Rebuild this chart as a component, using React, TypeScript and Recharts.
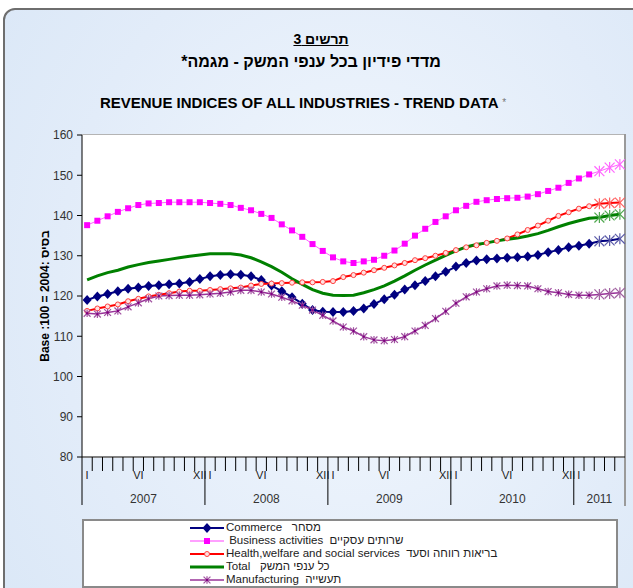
import React from "react"
import { LineChart, Line, XAxis, YAxis } from "recharts"

// categories
const years = [2007, 2008, 2009, 2010, 2011]
const monthsPerYear = [12, 12, 12, 12, 5]
const monthLabels: Record<number, string> = { 0: "I", 5: "VI", 11: "XII" }
const yTicks = [80, 90, 100, 110, 120, 130, 140, 150, 160]

// series, Jan 2007 .. May 2011 (base 2004 = 100)
const commerce = [
  119.0, 119.9, 120.5, 121.2, 121.8, 122.1, 122.5, 122.7, 122.9, 123.1, 123.5, 124.2,
  124.9, 125.2, 125.4, 125.3, 124.9, 124.0, 122.6, 121.2, 119.7, 118.1, 116.5, 116.1,
  116.0, 116.0, 116.3, 116.9, 118.0, 119.2, 120.3, 121.6, 122.7, 123.7, 124.9, 126.0,
  127.3, 128.2, 128.8, 129.1, 129.3, 129.5, 129.6, 129.8, 130.2, 130.9, 131.4, 132.1,
  132.5, 133.0, 133.6, 133.8, 134.2,
]
const business = [
  137.6, 138.7, 139.8, 140.9, 141.8, 142.6, 143.0, 143.1, 143.3, 143.3, 143.3, 143.3,
  143.1, 142.9, 142.6, 141.9, 141.3, 140.4, 139.4, 137.8, 136.3, 134.7, 132.9, 131.2,
  129.6, 128.6, 128.2, 128.6, 129.0, 130.0, 131.3, 133.0, 135.0, 136.7, 138.4, 139.8,
  141.3, 142.4, 143.4, 143.8, 144.1, 144.3, 144.4, 144.7, 145.3, 146.1, 146.9, 148.1,
  149.2, 150.2, 151.0, 151.9, 152.7,
]
const health = [
  116.3, 116.9, 117.4, 117.9, 118.7, 119.3, 119.9, 120.3, 120.7, 121.1, 121.3, 121.3,
  121.5, 121.7, 121.9, 122.1, 122.6, 123.0, 123.1, 123.2, 123.3, 123.4, 123.4, 123.5,
  123.7, 124.7, 125.2, 125.8, 126.4, 127.0, 127.6, 128.2, 128.9, 129.4, 130.0, 130.7,
  131.4, 132.1, 132.6, 133.2, 133.7, 134.3, 135.3, 136.4, 137.5, 138.7, 139.9, 140.8,
  141.7, 142.3, 142.9, 143.1, 143.2,
]
const total = [
  124.0, 125.0, 125.8, 126.4, 127.2, 127.8, 128.3, 128.7, 129.1, 129.5, 129.9, 130.2,
  130.5, 130.5, 130.5, 130.2, 129.5, 128.5, 127.3, 125.9, 124.3, 122.9, 121.6, 120.7,
  120.2, 120.1, 120.2, 120.8, 121.6, 122.5, 123.7, 125.0, 126.4, 127.7, 128.9, 130.1,
  131.2, 132.2, 132.8, 133.2, 133.7, 134.1, 134.4, 134.9, 135.5, 136.3, 137.2, 138.0,
  138.7, 139.3, 139.5, 140.0, 140.3,
]
const manufacturing = [
  115.7, 115.5, 115.9, 116.3, 117.3, 118.3, 119.3, 120.0, 120.1, 120.2, 120.2, 120.3,
  120.5, 120.7, 121.0, 121.4, 121.4, 121.0, 120.5, 119.7, 118.8, 117.7, 116.5, 115.2,
  113.8, 112.3, 111.3, 109.9, 109.1, 108.9, 109.2, 109.9, 111.3, 112.7, 114.4, 116.2,
  118.2, 119.8, 121.0, 121.8, 122.5, 122.7, 122.6, 122.5, 121.8, 121.1, 120.8, 120.4,
  120.2, 120.2, 120.4, 120.6, 120.8,
]

// last three months are preliminary -> star markers
const PRELIM_FROM = 50

const periods: { year: number; month: number; yi: number }[] = []
years.forEach((y, yi) => {
  for (let m = 0; m < monthsPerYear[yi]; m++) periods.push({ year: y, month: m, yi })
})

const data = periods.map((p, i) => ({
  period: `${p.year}-${p.month + 1}`,
  commerce: commerce[i],
  business: business[i],
  health: health[i],
  total: total[i],
  manufacturing: manufacturing[i],
}))

const FONT = '"Liberation Sans", Arial, sans-serif'
const W = 633
const H = 588
const PLOT_LEFT = 82
const PLOT_RIGHT = 625
const BAND = (PLOT_RIGHT - PLOT_LEFT) / periods.length

function MonthTick(props: any) {
  const { x, y, payload } = props
  const i = payload?.index ?? props.index
  const p = periods[i]
  if (!p) return null
  const n = monthsPerYear[p.yi]
  const yearEnd = p.month === n - 1
  const last = i === periods.length - 1
  const right = x + BAND / 2
  const label = monthLabels[p.month]
  const yearMid = p.month === Math.floor((n - 1) / 2)
  const yearX = n % 2 === 0 ? x + BAND / 2 : x
  return (
    <g>
      {i === 0 && (
        <line x1={x - BAND / 2} x2={x - BAND / 2} y1={y} y2={y + 48} stroke="#000" />
      )}
      {!last && (
        <line x1={right} x2={right} y1={y} y2={yearEnd ? y + 48 : y + 14} stroke="#000" />
      )}
      {label && (
        <text x={x} y={y + 22} textAnchor="middle" fontSize={11} fill="#222" fontFamily={FONT}>
          {label}
        </text>
      )}
      {yearMid && (
        <text x={yearX} y={y + 46} textAnchor="middle" fontSize={12} fill="#333" fontFamily={FONT}>
          {p.year}
        </text>
      )}
    </g>
  )
}

function Star({ cx, cy, color, r = 5 }: any) {
  const d = r * 0.9
  return (
    <g stroke={color} strokeWidth={1.2}>
      <line x1={cx} y1={cy - r} x2={cx} y2={cy + r} />
      <line x1={cx - d} y1={cy - d} x2={cx + d} y2={cy + d} />
      <line x1={cx - d} y1={cy + d} x2={cx + d} y2={cy - d} />
    </g>
  )
}

function Marker({ kind, cx, cy }: any) {
  if (kind === "diamond")
    return <polygon points={`${cx},${cy - 5} ${cx + 4.5},${cy} ${cx},${cy + 5} ${cx - 4.5},${cy}`} fill="#000080" />
  if (kind === "square") return <rect x={cx - 3} y={cy - 3} width={6} height={6} fill="#ff00ff" />
  if (kind === "circle") return <circle cx={cx} cy={cy} r={2.5} fill="#ffe0e0" stroke="#ff4040" strokeWidth={1} />
  if (kind === "asterisk")
    return (
      <g>
        <Star cx={cx} cy={cy} color="#a050a0" r={3.8} />
        <circle cx={cx} cy={cy} r={1.2} fill="#800080" />
      </g>
    )
  return null
}

function makeDot(kind: string, starColor: string) {
  return (props: any) => {
    const { cx, cy, index } = props
    if (cx == null || cy == null) return <g key={`d-${index}`} />
    if (index >= PRELIM_FROM)
      return (
        <g key={`d-${index}`}>
          <Star cx={cx} cy={cy} color={starColor} r={5.5} />
        </g>
      )
    return (
      <g key={`d-${index}`}>
        <Marker kind={kind} cx={cx} cy={cy} />
      </g>
    )
  }
}

const legendItems = [
  { text: "Commerce   מסחר", color: "#000080", width: 2, kind: "diamond" },
  { text: " Business activities  שרותים עסקיים", color: "#ff80ff", width: 1.5, kind: "square" },
  { text: "Health,welfare and social services  בריאות רווחה וסעד", color: "#ff0000", width: 2, kind: "circle" },
  { text: "Total   כל ענפי המשק", color: "#008000", width: 3, kind: "" },
  { text: "Manufacturing  תעשייה", color: "#993399", width: 1.5, kind: "asterisk" },
]

const ROW = 13

export default function App() {
  return (
    <div
      style={{
        position: "absolute",
        left: 0,
        top: 0,
        width: W,
        height: H,
        overflow: "hidden",
        background: "#fff",
        fontFamily: FONT,
      }}
    >
      {/* rounded frame */}
      <div
        style={{
          position: "absolute",
          left: 3,
          top: 8,
          width: 700,
          height: 700,
          border: "2px solid #6e6e6e",
          borderRadius: 12,
          background: "radial-gradient(ellipse at 50% 40%, #f3f8fe 0%, #e2ecf9 60%, #d8e6f6 100%)",
        }}
      />
      {/* plot background */}
      <div
        style={{
          position: "absolute",
          left: PLOT_LEFT,
          top: 134,
          width: PLOT_RIGHT - PLOT_LEFT,
          height: 323,
          background: "#fff",
          borderTop: "1px solid #b4b4b4",
        }}
      />
      <div style={{ position: "absolute", left: PLOT_RIGHT - 1, top: 134, width: 2, height: 372, background: "#9a9a9a" }} />

      <div style={{ position: "absolute", left: 0, top: 31, width: 642, textAlign: "center", fontWeight: "bold", fontSize: 14, lineHeight: "17px", textDecoration: "underline", direction: "rtl" }}>
        תרשים 3
      </div>
      <div style={{ position: "absolute", left: 0, top: 52, width: 622, textAlign: "center", fontWeight: "bold", fontSize: 16, lineHeight: "19px", direction: "rtl" }}>
        מדדי פידיון בכל ענפי המשק - מגמה*
      </div>
      <div style={{ position: "absolute", left: 0, top: 94, width: 606, textAlign: "center", fontWeight: "bold", fontSize: 15, lineHeight: "18px" }}>
        REVENUE INDICES OF ALL INDUSTRIES - TREND DATA <span style={{ fontWeight: "normal", fontSize: 10, color: "#777", verticalAlign: "top" }}>*</span>
      </div>

      <div style={{ position: "absolute", left: 0, top: 0 }}>
        <LineChart width={W} height={H} data={data} margin={{ top: 135, right: W - PLOT_RIGHT, bottom: 81, left: 8 }}>
          <XAxis
            dataKey="period"
            scale="band"
            interval={0}
            tickSize={0}
            tickMargin={0}
            tickLine={false}
            axisLine={{ stroke: "#000" }}
            height={50}
            tick={(p: any) => <MonthTick {...p} />}
          />
          <YAxis
            domain={[80, 160]}
            ticks={yTicks}
            interval={0}
            width={PLOT_LEFT - 8}
            tickSize={5}
            tickMargin={4}
            axisLine={{ stroke: "#000" }}
            tickLine={{ stroke: "#000" }}
            tick={{ fontSize: 12, fill: "#333", fontFamily: FONT }}
            label={{
              value: "Base :100 = 2004: בסיס",
              angle: -90,
              position: "center",
              style: { fontSize: 12, fontWeight: "bold", fill: "#000", fontFamily: FONT },
            }}
          />
          <Line dataKey="commerce" stroke="#000080" strokeWidth={2} dot={makeDot("diamond", "#5a5aa8")} isAnimationActive={false} />
          <Line dataKey="business" stroke="#ff66ff" strokeWidth={1} dot={makeDot("square", "#ff66ff")} isAnimationActive={false} />
          <Line dataKey="health" stroke="#ff0000" strokeWidth={2} dot={makeDot("circle", "#ff6060")} isAnimationActive={false} />
          <Line dataKey="total" stroke="#008000" strokeWidth={3} dot={makeDot("", "#50a850")} isAnimationActive={false} />
          <Line dataKey="manufacturing" stroke="#993399" strokeWidth={1.5} dot={makeDot("asterisk", "#a060a0")} isAnimationActive={false} />
        </LineChart>
      </div>

      {/* legend */}
      <div
        style={{
          position: "absolute",
          left: PLOT_LEFT,
          top: 519,
          width: 532,
          height: 65,
          background: "#fff",
          border: "2px solid #8a8a8a",
          overflow: "hidden",
        }}
      >
        <div style={{ position: "absolute", left: 106, top: 0 }}>
          {legendItems.map((it) => (
            <div key={it.text} style={{ display: "flex", alignItems: "center", height: ROW, fontSize: 11.5, lineHeight: `${ROW}px`, color: "#222", whiteSpace: "pre" }}>
              <svg width={34} height={12} style={{ flex: "none" }}>
                <line x1={0} x2={34} y1={6} y2={6} stroke={it.color} strokeWidth={it.width} />
                <Marker kind={it.kind} cx={17} cy={6} />
              </svg>
              <span style={{ marginLeft: 2 }}>{it.text}</span>
            </div>
          ))}
        </div>
      </div>
    </div>
  )
}
